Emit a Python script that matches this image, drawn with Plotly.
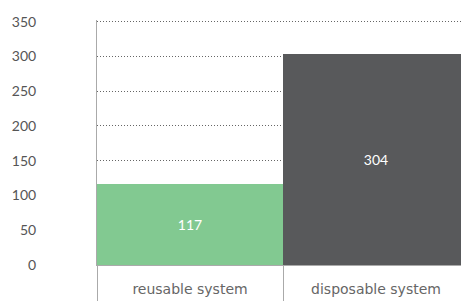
import plotly.graph_objects as go

categories = ["reusable system", "disposable system"]
values = [117, 304]
bar_colors = ["#82c991", "#58595b"]
y_ticks = [0, 50, 100, 150, 200, 250, 300, 350]

fig = go.Figure(go.Bar(
    x=categories, y=values,
    marker=dict(color=bar_colors, line=dict(width=0)),
    text=[str(v) for v in values],
    textposition="inside", insidetextanchor="middle",
    textfont=dict(color="white", size=14, family="Lato"),
))

# page body has an 8px margin; offset layout to compensate
fig.update_layout(
    width=461, height=293,
    margin=dict(l=89, r=0, t=12, b=36, autoexpand=False),
    paper_bgcolor="white", plot_bgcolor="white",
    bargap=0, showlegend=False,
    font=dict(family="Lato", color="#555555", size=13),
)
fig.update_yaxes(
    range=[0, 352.5], tickvals=y_ticks, automargin=False,
    showgrid=True, gridcolor="#666666", griddash="1px,2px", gridwidth=1,
    showline=True, linecolor="#aaaaaa", linewidth=1,
    zeroline=False, ticks="", ticklabelstandoff=57,
    tickfont=dict(size=14, color="#555555"),
)
fig.update_xaxes(
    showline=True, linecolor="#aaaaaa", linewidth=1, automargin=False,
    tickson="boundaries", ticks="outside", ticklen=35, tickcolor="#aaaaaa",
    ticklabelstandoff=11,
    tickfont=dict(size=14, color="#666666", family="DejaVu Sans"),
)
fig.write_html("out.html")
